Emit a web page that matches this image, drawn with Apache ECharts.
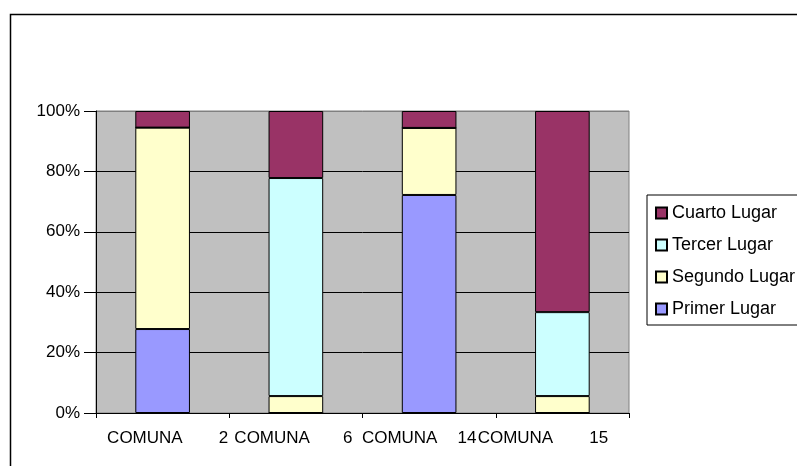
<!DOCTYPE html>
<html>
<head>
<meta charset="utf-8">
<script src="https://cdn.jsdelivr.net/npm/echarts@6/dist/echarts.min.js"></script>
<style>
html,body{margin:0;padding:0;background:#fff;}
#chart{width:797px;height:466px;}
</style>
</head>
<body>
<div id="chart"></div>
<script>
// ---- data ----
const categories = ['COMUNA 2', 'COMUNA 6', 'COMUNA 14', 'COMUNA 15'];
const seriesNames = ['Primer Lugar', 'Segundo Lugar', 'Tercer Lugar', 'Cuarto Lugar'];
const primerLugar = [27.8, 0, 72.2, 0];
const segundoLugar = [66.7, 5.6, 22.2, 5.6];
const tercerLugar = [0, 72.2, 0, 27.8];
const cuartoLugar = [5.5, 22.2, 5.6, 66.6];
const yTicks = [0, 20, 40, 60, 80, 100];

const colors = ['#9999FF', '#FFFFCC', '#CCFFFF', '#993366'];
const values = [primerLugar, segundoLugar, tercerLugar, cuartoLugar];
const FONT = 'Liberation Sans, Arial, sans-serif';
const FS = 17;

// label layout helpers (lead spacer, gap, trail spacer) per category
const lead = [10, 0, 0, 0];
const gap = [36, 33, 20, 36];
const trail = [0, 5, 20, 39];
const rich = {
  a: { fontFamily: FONT, fontSize: FS, color: '#000' },
  n: { fontFamily: FONT, fontSize: FS, color: '#000' }
};
for (let i = 0; i < categories.length; i++) {
  rich['l' + i] = { width: lead[i], fontSize: FS };
  rich['g' + i] = { width: gap[i], fontSize: FS };
  rich['t' + i] = { width: trail[i], fontSize: FS };
}

const chart = echarts.init(document.getElementById('chart'), null, { renderer: 'canvas' });
const option = {
  animation: false,
  backgroundColor: '#fff',
  textStyle: { fontFamily: FONT },
  grid: {
    left: 96, right: 168, top: 111, bottom: 53,
    show: true, backgroundColor: '#C0C0C0', borderColor: '#808080', borderWidth: 1
  },
  legend: {
    orient: 'vertical',
    left: 647, top: 195,
    padding: [9, 30, 7, 8],
    borderColor: '#000', borderWidth: 1,
    itemWidth: 11, itemHeight: 11, itemGap: 14,
    icon: 'rect',
    textStyle: { fontFamily: FONT, fontSize: 18, color: '#000' },
    data: seriesNames.slice().reverse()
  },
  xAxis: {
    type: 'category',
    data: categories,
    axisLine: { lineStyle: { color: '#000', width: 1 } },
    axisTick: { show: true, length: 5, lineStyle: { color: '#000' } },
    axisLabel: {
      margin: 17,
      interval: 0,
      formatter: function (v, idx) {
        const parts = v.split(' ');
        return '{l' + idx + '| }{a|' + parts[0] + '}{g' + idx + '| }{n|' + parts[1] + '}{t' + idx + '| }';
      },
      rich: rich
    }
  },
  yAxis: {
    type: 'value',
    min: 0, max: 100, interval: 20,
    axisLine: { show: true, lineStyle: { color: '#000', width: 1 } },
    axisTick: { show: true, length: 12, lineStyle: { color: '#000' } },
    axisLabel: {
      margin: 16, fontFamily: FONT, fontSize: FS, color: '#000',
      formatter: function (v) { return yTicks.indexOf(v) >= 0 ? v + '%' : ''; }
    },
    splitLine: { show: true, lineStyle: { color: ['#000', '#000', '#000', '#000', '#000', '#808080'], width: 1 } }
  },
  series: seriesNames.map((name, i) => ({
    name: name,
    type: 'bar',
    stack: 'total',
    barWidth: '41%',
    data: values[i],
    itemStyle: { color: colors[i], borderColor: '#000', borderWidth: 1 }
  })),
  graphic: [{
    type: 'polyline',
    shape: { points: [[10.5, 466], [10.5, 14.5], [797, 14.5]] },
    style: { stroke: '#000', lineWidth: 1.5, fill: null },
    silent: true
  }]
};
chart.setOption(option);
</script>
</body>
</html>
